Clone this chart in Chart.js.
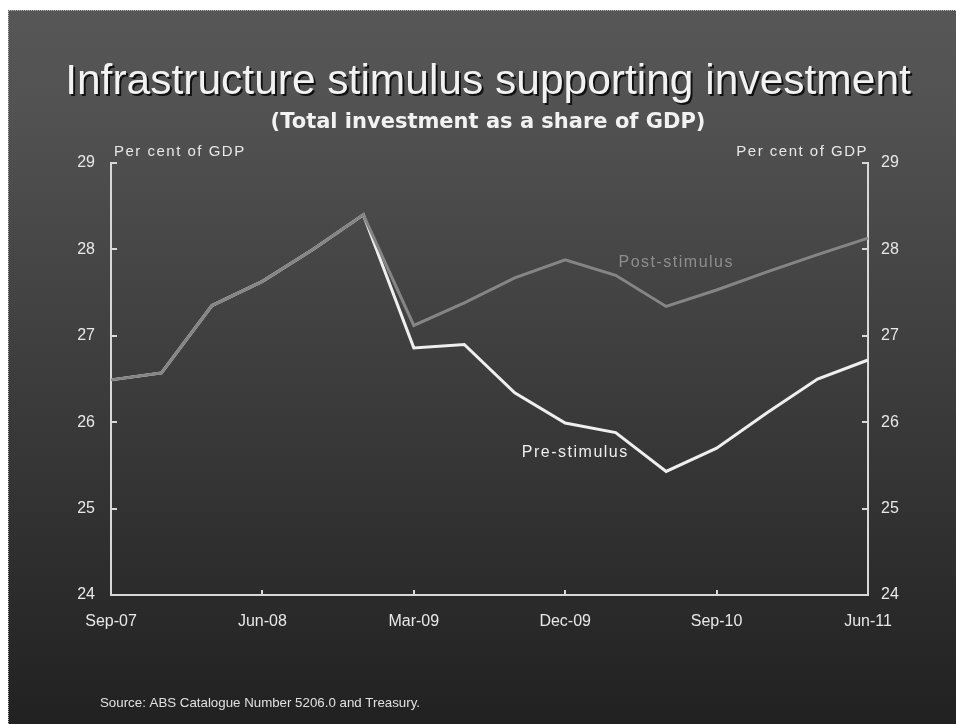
<!DOCTYPE html>
<html>
<head>
<meta charset="utf-8">
<script src="https://cdn.jsdelivr.net/npm/chart.js@4/dist/chart.umd.min.js"></script>
<style>
  html, body { margin: 0; padding: 0; background: #fff; }
  #wrap { width: 956px; height: 724px; }
</style>
</head>
<body>
<div id="wrap"><canvas id="myChart" width="956" height="724"></canvas></div>
<script>
// quarterly data, per cent of GDP
const quarters = ['Sep-07', 'Dec-07', 'Mar-08', 'Jun-08', 'Sep-08', 'Dec-08', 'Mar-09', 'Jun-09',
                  'Sep-09', 'Dec-09', 'Mar-10', 'Jun-10', 'Sep-10', 'Dec-10', 'Mar-11', 'Jun-11'];
const postStimulus = [26.49, 26.57, 27.35, 27.63, 28.0, 28.40, 27.12, 27.38,
                      27.67, 27.88, 27.70, 27.34, 27.53, 27.74, 27.94, 28.13];
const preStimulus = [26.49, 26.57, 27.35, 27.63, 28.0, 28.40, 26.86, 26.90,
                     26.34, 25.99, 25.88, 25.43, 25.70, 26.11, 26.50, 26.72];
const shownQuarters = ['Sep-07', 'Jun-08', 'Mar-09', 'Dec-09', 'Sep-10', 'Jun-11'];
const yMin = 24, yMax = 29;

const SANS = '"Liberation Sans", Arial, sans-serif';
const AXIS_COL = '#d8d8d8';
const TEXT_COL = '#e8e8e8';

// slide background, dotted frame, inward tick marks and all the text
const slide = {
    id: 'slide',
    beforeDraw(chart) {
        const ctx = chart.ctx;
        ctx.save();
        ctx.fillStyle = '#fff';
        ctx.fillRect(0, 0, 956, 724);
        const g = ctx.createLinearGradient(0, 10, 0, 724);
        g.addColorStop(0, '#565656');
        g.addColorStop(0.12, '#535353');
        g.addColorStop(1, '#212121');
        ctx.fillStyle = g;
        ctx.fillRect(8, 10, 948, 714);
        ctx.strokeStyle = '#b8b8b8';
        ctx.lineWidth = 1;
        ctx.setLineDash([1, 1]);
        ctx.beginPath();
        ctx.moveTo(8.5, 724);
        ctx.lineTo(8.5, 10.5);
        ctx.lineTo(956, 10.5);
        ctx.stroke();
        ctx.restore();
    },
    afterDraw(chart) {
        const ctx = chart.ctx;
        const {x, y} = chart.scales;
        const area = chart.chartArea;
        ctx.save();

        // tick marks pointing into the plot
        ctx.strokeStyle = AXIS_COL;
        ctx.lineWidth = 2;
        ctx.beginPath();
        for (let v = yMin; v <= yMax; v++) {
            const py = Math.round(y.getPixelForValue(v));
            ctx.moveTo(area.left, py); ctx.lineTo(area.left + 6, py);
            ctx.moveTo(area.right, py); ctx.lineTo(area.right - 6, py);
        }
        quarters.forEach((q, i) => {
            if (!shownQuarters.includes(q)) return;
            const px = Math.round(x.getPixelForValue(i));
            ctx.moveTo(px, area.bottom); ctx.lineTo(px, area.bottom - 5);
        });
        ctx.stroke();

        // heading with drop shadow
        ctx.textAlign = 'center';
        ctx.textBaseline = 'alphabetic';
        ctx.font = '42.5px ' + SANS;
        ctx.fillStyle = '#111';
        ctx.fillText('Infrastructure stimulus supporting investment', 490, 96);
        ctx.fillStyle = '#f2f2f2';
        ctx.fillText('Infrastructure stimulus supporting investment', 488, 94);

        ctx.font = 'bold 21px "DejaVu Sans", sans-serif';
        ctx.fillStyle = '#f2f2f2';
        ctx.fillText('(Total investment as a share of GDP)', 488, 128);

        // unit labels over each axis
        ctx.letterSpacing = '1.5px';
        ctx.font = '15px ' + SANS;
        ctx.fillStyle = TEXT_COL;
        ctx.textAlign = 'left';
        ctx.fillText('Per cent of GDP', area.left + 3, 156);
        ctx.textAlign = 'right';
        ctx.fillText('Per cent of GDP', area.right + 0, 156);

        // series names next to the lines
        ctx.font = '16px ' + SANS;
        ctx.textAlign = 'center';
        ctx.textBaseline = 'middle';
        ctx.fillStyle = '#8e8e8e';
        ctx.fillText('Post-stimulus', x.getPixelForValue(11.2), y.getPixelForValue(27.85));
        ctx.fillStyle = '#eeeeee';
        ctx.fillText('Pre-stimulus', x.getPixelForValue(9.2), y.getPixelForValue(25.65));
        ctx.letterSpacing = '0px';

        ctx.font = '13.3px ' + SANS;
        ctx.textAlign = 'left';
        ctx.textBaseline = 'alphabetic';
        ctx.fillStyle = '#e0e0e0';
        ctx.fillText('Source: ABS Catalogue Number 5206.0 and Treasury.', 100, 707);
        ctx.restore();
    }
};

const tickFont = { family: SANS, size: 16 };

new Chart(document.getElementById('myChart'), {
    type: 'line',
    data: {
        labels: quarters,
        datasets: [
            {
                label: 'Post-stimulus',
                data: postStimulus,
                borderColor: '#858585',
                borderWidth: 3,
                pointRadius: 0,
                tension: 0,
                yAxisID: 'y',
                order: 0
            },
            {
                label: 'Pre-stimulus',
                data: preStimulus,
                borderColor: '#efefef',
                borderWidth: 3,
                pointRadius: 0,
                tension: 0,
                yAxisID: 'y',
                order: 1
            }
        ]
    },
    options: {
        responsive: false,
        animation: false,
        layout: { padding: { top: 163, left: 0, right: 0, bottom: 0 } },
        plugins: {
            legend: { display: false },
            tooltip: { enabled: false }
        },
        scales: {
            x: {
                grid: { display: false, drawTicks: false },
                border: { display: true, color: AXIS_COL, width: 2 },
                ticks: {
                    color: TEXT_COL,
                    font: tickFont,
                    padding: 17,
                    autoSkip: false,
                    maxRotation: 0,
                    callback(v, i) {
                        const q = quarters[i];
                        return shownQuarters.includes(q) ? q : '';
                    }
                },
                afterFit(s) { s.height = 724 - 595; }
            },
            y: {
                position: 'left',
                min: yMin,
                max: yMax,
                grid: { display: false, drawTicks: false },
                border: { display: true, color: AXIS_COL, width: 2 },
                ticks: { stepSize: 1, color: TEXT_COL, font: tickFont, padding: 16 },
                afterFit(s) { s.width = 111; }
            },
            y2: {
                position: 'right',
                min: yMin,
                max: yMax,
                grid: { display: false, drawTicks: false },
                border: { display: true, color: AXIS_COL, width: 2 },
                ticks: { stepSize: 1, color: TEXT_COL, font: tickFont, padding: 13 },
                afterFit(s) { s.width = 956 - 868; }
            }
        }
    },
    plugins: [slide]
});
</script>
</body>
</html>
